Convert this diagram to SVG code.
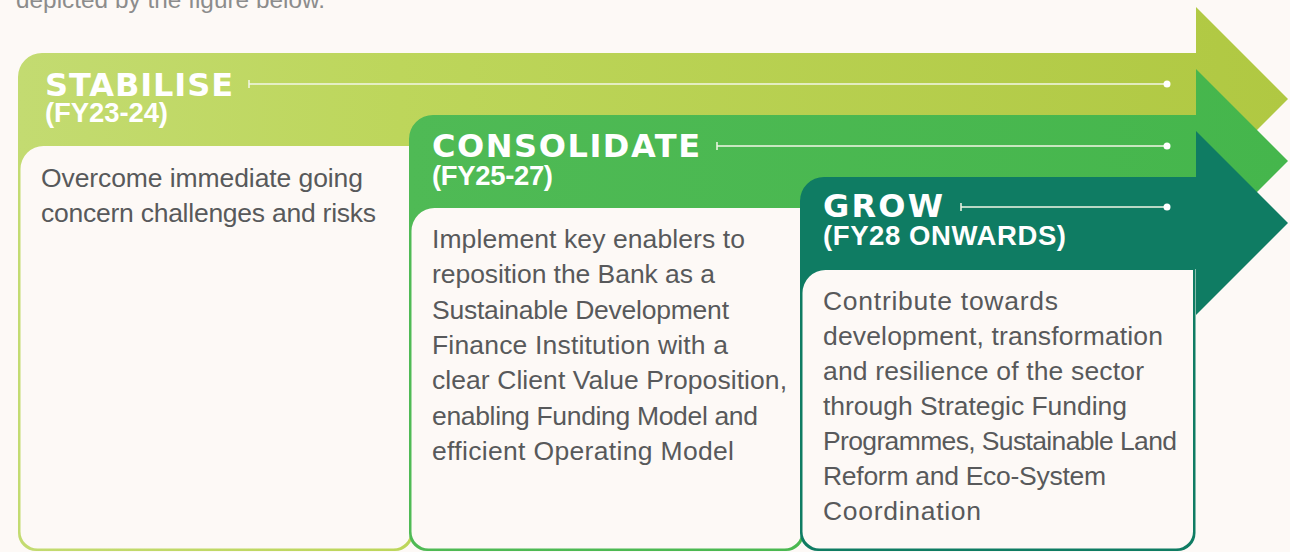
<svg xmlns="http://www.w3.org/2000/svg" width="1290" height="552" viewBox="0 0 1290 552">
  <defs>
    <linearGradient id="gStab" x1="18" y1="0" x2="1288" y2="0" gradientUnits="userSpaceOnUse">
      <stop offset="0" stop-color="#c3db71"/>
      <stop offset="0.3" stop-color="#bdd65b"/>
      <stop offset="1" stop-color="#b0c842"/>
    </linearGradient>
    <linearGradient id="gCons" x1="409" y1="0" x2="1288" y2="0" gradientUnits="userSpaceOnUse">
      <stop offset="0" stop-color="#4fba55"/>
      <stop offset="1" stop-color="#45b64c"/>
    </linearGradient>
  </defs>
  <style>
    .bg { fill: #fdf9f6; }
    .panel { fill: #fdf9f6; }
    .title { font-family: "DejaVu Sans", "Liberation Sans", sans-serif; font-weight: bold; font-size: 32px; fill: #ffffff; }
    .period { font-family: "Liberation Sans", Arial, sans-serif; font-weight: bold; font-size: 27.5px; fill: #ffffff; }
    .body { font-family: "Liberation Sans", Arial, sans-serif; font-size: 26.5px; fill: #58595b; }
    .intro { font-family: "Liberation Sans", Arial, sans-serif; font-size: 24.3px; fill: #8c8c8c; }
    .rule { stroke: #f2f6e6; stroke-width: 1.5; fill: none; }
    .dot { fill: #ffffff; }
  </style>

  <rect class="bg" x="0" y="0" width="1290" height="552"/>

  <!-- closing words of the paragraph above the figure -->
  <text class="intro" x="16" y="7.5" textLength="309">depicted by the figure below.</text>

  <!-- Phase 1 -->
  <g id="stabilise">
    <path fill="url(#gStab)" d="M18,77 A24,24 0 0 1 42,53 H1196 V7 L1288,99 L1196,191 V145 H413 V533 A18,18 0 0 1 395,551 H36 A18,18 0 0 1 18,533 Z"/>
    <path class="panel" d="M20.5,169 A23,23 0 0 1 43.5,146 H410.5 V531 A17,17 0 0 1 393.5,548.5 H37.5 A17,17 0 0 1 20.5,531 Z"/>
    <text class="title" x="45" y="96" textLength="188">STABILISE</text>
    <text class="period" x="45" y="122" textLength="123">(FY23-24)</text>
    <path class="rule" d="M249,80 V88 M249,84 H1167"/>
    <circle class="dot" cx="1167" cy="84" r="3.5"/>
    <text class="body" x="41" y="187" textLength="322">Overcome immediate going</text>
    <text class="body" x="41" y="222" textLength="335">concern challenges and risks</text>
  </g>

  <!-- Phase 2 -->
  <g id="consolidate">
    <path fill="url(#gCons)" d="M409,139 A24,24 0 0 1 433,115 H1196 V69 L1288,161 L1196,253 V207 H804 V533 A18,18 0 0 1 786,551 H427 A18,18 0 0 1 409,533 Z"/>
    <path class="panel" d="M411.5,231 A23,23 0 0 1 434.5,208 H801.5 V531 A17,17 0 0 1 784.5,548.5 H428.5 A17,17 0 0 1 411.5,531 Z"/>
    <text class="title" x="432" y="157" textLength="268">CONSOLIDATE</text>
    <text class="period" x="432" y="185" textLength="121">(FY25-27)</text>
    <path class="rule" d="M717,142 V150 M717,146 H1167"/>
    <circle class="dot" cx="1167" cy="146" r="3.5"/>
    <text class="body" x="432" y="248" textLength="313">Implement key enablers to</text>
    <text class="body" x="432" y="283.3" textLength="283">reposition the Bank as a</text>
    <text class="body" x="432" y="318.7" textLength="297">Sustainable Development</text>
    <text class="body" x="432" y="354" textLength="296">Finance Institution with a</text>
    <text class="body" x="432" y="389.3" textLength="355">clear Client Value Proposition,</text>
    <text class="body" x="432" y="424.7" textLength="326">enabling Funding Model and</text>
    <text class="body" x="432" y="460" textLength="302">efficient Operating Model</text>
  </g>

  <!-- Phase 3 -->
  <g id="grow">
    <path fill="#0f7c63" d="M800,201 A24,24 0 0 1 824,177 H1196 V131 L1288,223 L1196,315 V269 H1195.5 V533 A18,18 0 0 1 1177.5,551 H818 A18,18 0 0 1 800,533 Z"/>
    <path class="panel" d="M802.5,293 A23,23 0 0 1 825.5,270 H1193 V531 A17,17 0 0 1 1176,548.5 H819.5 A17,17 0 0 1 802.5,531 Z"/>
    <text class="title" x="823" y="217" textLength="120">GROW</text>
    <text class="period" x="823" y="245" textLength="243">(FY28 ONWARDS)</text>
    <path class="rule" d="M961,203 V211 M961,207 H1167"/>
    <circle class="dot" cx="1167" cy="207" r="3.5"/>
    <text class="body" x="823" y="309.5" textLength="235">Contribute towards</text>
    <text class="body" x="823" y="344.6" textLength="340">development, transformation</text>
    <text class="body" x="823" y="379.7" textLength="321">and resilience of the sector</text>
    <text class="body" x="823" y="414.8" textLength="304">through Strategic Funding</text>
    <text class="body" x="823" y="449.9" textLength="354">Programmes, Sustainable Land</text>
    <text class="body" x="823" y="485" textLength="283">Reform and Eco-System</text>
    <text class="body" x="823" y="520" textLength="158">Coordination</text>
  </g>
</svg>
